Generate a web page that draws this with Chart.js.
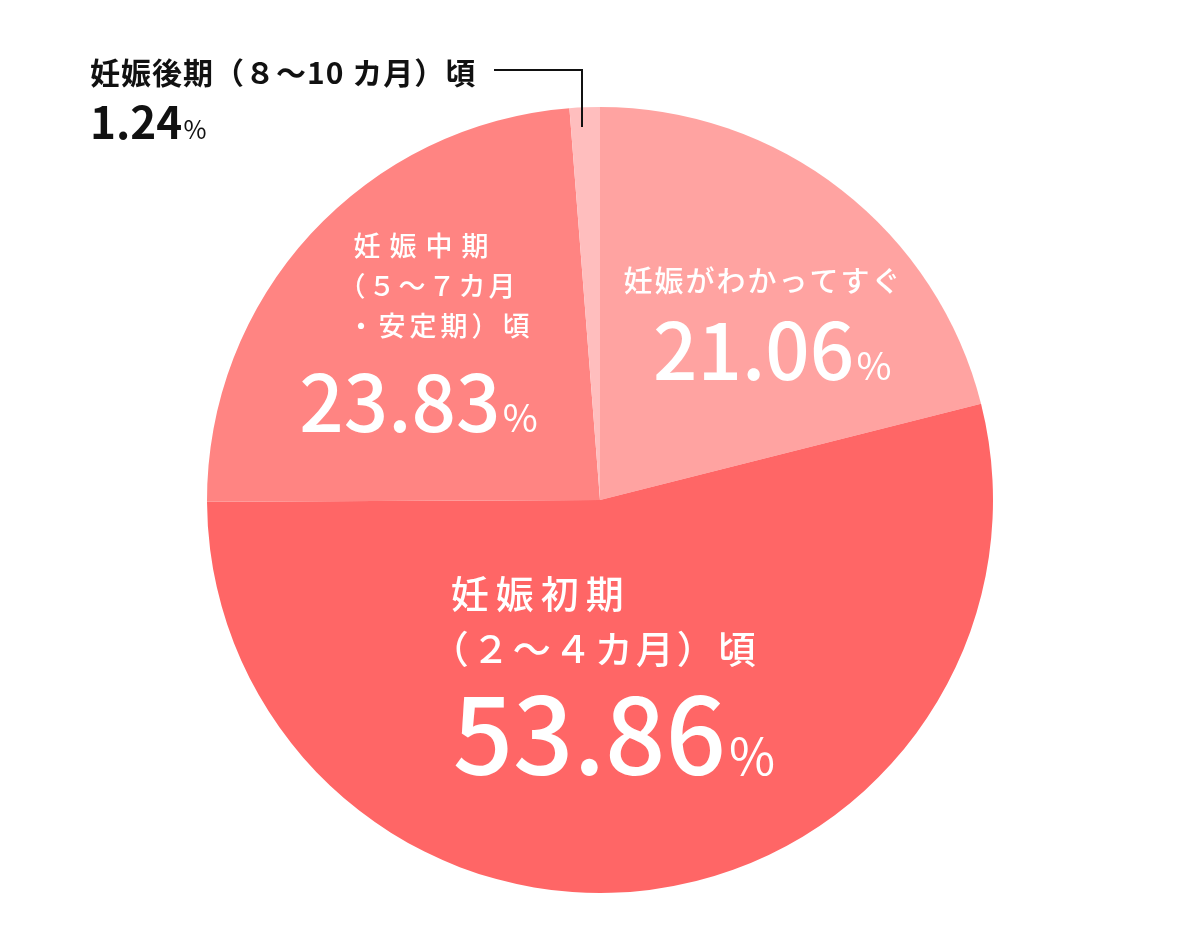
<!DOCTYPE html>
<html lang="ja">
<head>
<meta charset="utf-8">
<script src="https://cdn.jsdelivr.net/npm/chart.js@4/dist/chart.umd.min.js"></script>
<style>
  html, body { margin: 0; padding: 0; background: #fff; }
  #wrap { width: 1200px; height: 939px; position: relative; }
</style>
</head>
<body>
<div id="wrap"><canvas id="pie" width="1200" height="939"></canvas></div>
<script>
// --- data ---
const categories = ['妊娠がわかってすぐ', '妊娠初期（２〜４カ月）頃', '妊娠中期（５〜７カ月・安定期）頃', '妊娠後期（８〜10 カ月）頃'];
const shares = [21.06, 53.86, 23.83, 1.24];
const sliceColors = ['#FFA3A1', '#FF6666', '#FF8482', '#FFBEBE'];

// label lines per slice (drawn by plugin)
const labelLines = [
  ['妊娠がわかってすぐ'],
  ['妊娠初期', '（２〜４カ月）頃'],
  ['妊娠中期', '（５〜７カ月', '・安定期）頃'],
  ['妊娠後期（８〜10 カ月）頃']
];

const JP = '"Noto Sans CJK JP", "Noto Sans", sans-serif';

function drawValue(ctx, x, y, value, numSize, pctSize, color, weight) {
  const txt = value.toFixed(2);
  ctx.fillStyle = color;
  ctx.textAlign = 'left';
  ctx.textBaseline = 'alphabetic';
  ctx.letterSpacing = '0px';
  ctx.font = `${weight} ${numSize}px ${JP}`;
  ctx.fillText(txt, x, y);
  const w = ctx.measureText(txt).width;
  ctx.font = `400 ${pctSize}px ${JP}`;
  ctx.fillText('%', x + w + numSize * 0.03, y);
}

// each line: [text, letterSpacing, xShift]
function drawLines(ctx, lines, x, y, size, gap, color, weight) {
  ctx.fillStyle = color;
  ctx.textAlign = 'left';
  ctx.textBaseline = 'alphabetic';
  ctx.font = `${weight} ${size}px ${JP}`;
  lines.forEach((l, i) => {
    ctx.letterSpacing = l[1] + 'px';
    ctx.fillText(l[0], x + (l[2] || 0), y + i * gap);
  });
  ctx.letterSpacing = '0px';
}

const labelPlugin = {
  id: 'sliceLabels',
  afterDraw(chart) {
    const ctx = chart.ctx;
    const arc = chart.getDatasetMeta(0).data[0];
    const cx = arc.x, cy = arc.y, r = arc.outerRadius;
    const px = f => cx + f * r, py = f => cy + f * r;
    ctx.save();

    // 妊娠がわかってすぐ
    drawLines(ctx, [[labelLines[0][0], 2]], px(0.06), py(-0.53), 29, 40, '#fff', 500);
    drawValue(ctx, px(0.135), py(-0.305), shares[0], 78, 38, '#fff', 500);

    // 妊娠初期
    drawLines(ctx, [[labelLines[1][0], 7], [labelLines[1][1], 3, -20]], px(-0.38), py(0.275), 38, 55, '#fff', 500);
    drawValue(ctx, px(-0.375), py(0.7), shares[1], 106, 50, '#fff', 500);

    // 妊娠中期
    drawLines(ctx, [[labelLines[2][0], 9], [labelLines[2][1], 3, -15], [labelLines[2][2], 4, -6]], px(-0.627), py(-0.62), 27, 40, '#fff', 500);
    drawValue(ctx, px(-0.765), py(-0.173), shares[2], 78, 38, '#fff', 500);

    // 妊娠後期 (outside, with leader line)
    drawLines(ctx, [[labelLines[3][0], 1]], 90, 84, 30, 40, '#111', 'bold');
    drawValue(ctx, 90, 139, shares[3], 44, 25, '#111', 'bold');

    ctx.strokeStyle = '#111';
    ctx.lineWidth = 2;
    ctx.beginPath();
    ctx.moveTo(494, 70);
    ctx.lineTo(582, 70);
    ctx.lineTo(582, 127);
    ctx.stroke();

    ctx.restore();
  }
};

new Chart(document.getElementById('pie'), {
  type: 'pie',
  data: {
    labels: categories,
    datasets: [{
      data: shares,
      backgroundColor: sliceColors,
      borderWidth: 0,
      hoverOffset: 0
    }]
  },
  options: {
    responsive: false,
    animation: false,
    layout: { padding: { top: 107, bottom: 46, left: 207, right: 207 } },
    plugins: {
      legend: { display: false },
      tooltip: { enabled: false }
    }
  },
  plugins: [labelPlugin]
});
</script>
</body>
</html>
